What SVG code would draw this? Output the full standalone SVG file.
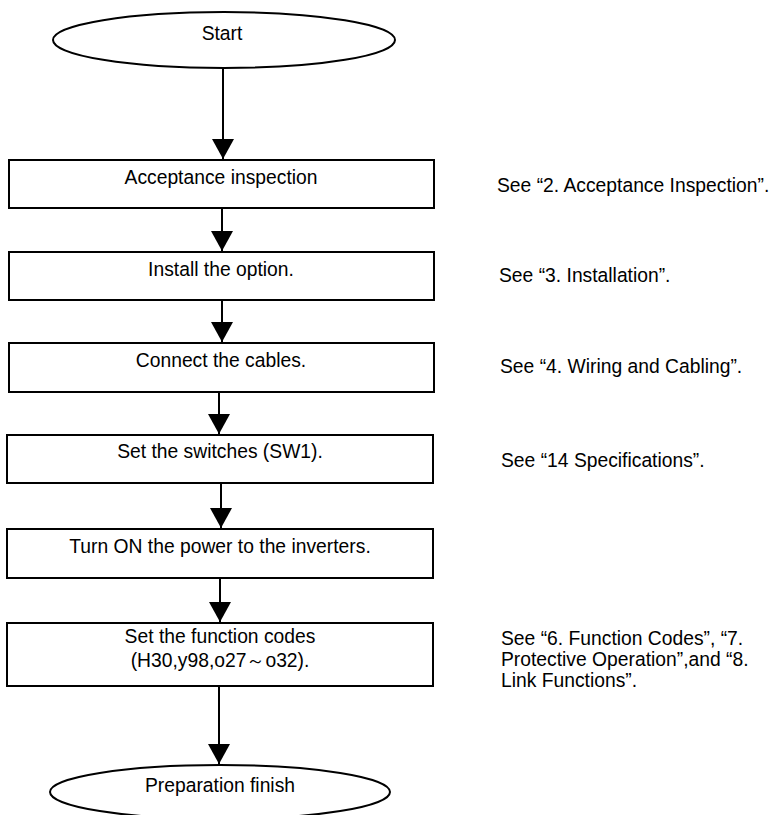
<svg xmlns="http://www.w3.org/2000/svg" width="775" height="815" viewBox="0 0 775 815">
<style>
.shape{fill:#fff;stroke:#000;stroke-width:2}
.lbl{font-family:"Liberation Sans",Arial,sans-serif;font-size:19.3px;fill:#000;text-anchor:middle}
.note{font-family:"Liberation Sans",Arial,sans-serif;font-size:19.3px;fill:#000}
.conn{stroke:#000;stroke-width:2;fill:none;marker-end:url(#arr)}
</style>
<defs>
<marker id="arr" viewBox="0 0 20 22" refX="20" refY="11" markerWidth="20" markerHeight="22" markerUnits="userSpaceOnUse" orient="auto">
<path d="M0,0 L20,11 L0,22 z" fill="#000"/>
</marker>
</defs>
<rect width="775" height="815" fill="#fff"/>
<g id="connectors">
<line class="conn" x1="223" y1="68" x2="223" y2="159"/>
<line class="conn" x1="222" y1="208" x2="222" y2="251"/>
<line class="conn" x1="222" y1="300" x2="222" y2="342"/>
<line class="conn" x1="219" y1="392" x2="219" y2="434"/>
<line class="conn" x1="221" y1="483" x2="221" y2="528"/>
<line class="conn" x1="220" y1="578" x2="220" y2="622"/>
<line class="conn" x1="219" y1="686" x2="219" y2="764"/>
</g>
<g id="start">
<ellipse class="shape" cx="224" cy="40" rx="171" ry="28"/>
<text class="lbl" x="222" y="40">Start</text>
</g>
<g id="acceptance">
<rect class="shape" x="9" y="160" width="425" height="48"/>
<text class="lbl" x="221" y="184">Acceptance inspection</text>
</g>
<g id="install">
<rect class="shape" x="9" y="252" width="425" height="48"/>
<text class="lbl" x="221" y="276">Install the option.</text>
</g>
<g id="connect">
<rect class="shape" x="9" y="343" width="425" height="49"/>
<text class="lbl" x="221" y="367">Connect the cables.</text>
</g>
<g id="switches">
<rect class="shape" x="7" y="435" width="426" height="48"/>
<text class="lbl" x="220" y="458">Set the switches (SW1).</text>
</g>
<g id="power">
<rect class="shape" x="7" y="529" width="426" height="49"/>
<text class="lbl" x="220" y="553">Turn ON the power to the inverters.</text>
</g>
<g id="codes">
<rect class="shape" x="7" y="623" width="426" height="63"/>
<text class="lbl" x="220" y="643">Set the function codes</text>
<text class="lbl" x="220" y="667">(H30,y98,o27～o32).</text>
</g>
<g id="finish">
<ellipse class="shape" cx="220" cy="792" rx="170" ry="27"/>
<text class="lbl" x="220" y="792">Preparation finish</text>
</g>
<g id="notes">
<text class="note" x="497" y="192">See “2. Acceptance Inspection”.</text>
<text class="note" x="499" y="282">See “3. Installation”.</text>
<text class="note" x="500" y="373">See “4. Wiring and Cabling”.</text>
<text class="note" x="501" y="467">See “14 Specifications”.</text>
<text class="note" x="501" y="645">See “6. Function Codes”, “7.</text>
<text class="note" x="501" y="666">Protective Operation”,and “8.</text>
<text class="note" x="501" y="687">Link Functions”.</text>
</g>
</svg>
